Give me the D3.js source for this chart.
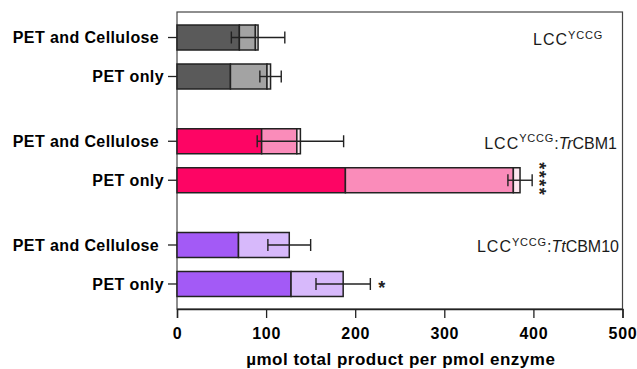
<!DOCTYPE html>
<html>
<head>
<meta charset="utf-8">
<script src="https://cdn.jsdelivr.net/npm/d3@7"></script>
<style>
  html, body { margin: 0; padding: 0; background: #fff; }
  svg text { font-family: "Liberation Sans", Arial, Helvetica, sans-serif; }
</style>
</head>
<body>
<svg id="chart" width="637" height="369"></svg>
<script>
// ---- data ----
const groups = ["LCC", "LCC:Tr", "LCC:Tt"];
const groupBase = ["LCC", "LCC", "LCC"];
const groupSup = ["YCCG", "YCCG", "YCCG"];
const groupItalic = ["", "Tr", "Tt"];
const groupSuffix = ["", "CBM1", "CBM10"];
const conditions = ["PET and Cellulose", "PET only"];
// rows: group x condition, in reading order
const segDark  = [70, 60, 95, 189, 69, 128];
const segLight = [18, 41, 39.5, 188.5, 57, 58.5];
const segThird = [3, 4, 4, 7.5, 0, 0];
const errSD    = [30, 12, 48.5, 13.6, 24, 30.5];
const signif   = ["", "", "", "****", "", "*"];
const xTicks   = [0, 100, 200, 300, 400, 500];
const xTitle   = "µmol total product per pmol enzyme";

// ---- styles ----
const darkCol  = ["#5a5a5a", "#fd0564", "#a35af6"];
const lightCol = ["#a3a3a3", "#fa8cba", "#d7b9fb"];
const thirdCol = ["#d8d8d8", "#fde6ef", "#efe4ff"];
const ink = "#222";

const svg = d3.select("#chart");
const x = d3.scaleLinear().domain([0, 500]).range([177, 622.5]);
const yOuter = d3.scaleBand().domain(groups).range([18, 303.5]).paddingInner(0.248).paddingOuter(0);
const yInner = d3.scaleBand().domain(conditions).range([0, yOuter.bandwidth()]).paddingInner(0.359).paddingOuter(0.18);

const rows = [];
groups.forEach((g, gi) => conditions.forEach((c, ci) => {
  const i = gi * conditions.length + ci;
  rows.push({ g, gi, c, ci, i, a: segDark[i], b: segLight[i], t: segThird[i], err: errSD[i], sig: signif[i] });
}));
const yPos = d => yOuter(d.g) + yInner(d.c);
const bh = yInner.bandwidth();

const stack = d3.stack().keys(["a", "b", "t"]);
const layers = stack(rows);
const colsets = [darkCol, lightCol, thirdCol];

// frame
svg.append("rect")
  .attr("x", x(0)).attr("y", 12)
  .attr("width", x(500) - x(0)).attr("height", 309 - 12)
  .attr("fill", "none").attr("stroke", "#444").attr("stroke-width", 1.2);

// bars
layers.forEach((layer, li) => {
  svg.append("g").selectAll("rect")
    .data(layer.filter(s => s[1] - s[0] > 0))
    .join("rect")
    .attr("x", s => x(s[0]))
    .attr("y", s => yPos(s.data))
    .attr("width", s => x(s[1]) - x(s[0]))
    .attr("height", bh)
    .attr("fill", s => colsets[li][s.data.gi])
    .attr("stroke", ink)
    .attr("stroke-width", 1.5);
});

// error bars
const eb = svg.append("g").attr("stroke", ink).attr("stroke-width", 1.4).attr("fill", "none");
rows.forEach(d => {
  const tot = d.a + d.b + d.t;
  const cy = yPos(d) + bh / 2;
  const x0 = x(tot - d.err), x1 = x(tot + d.err);
  eb.append("line").attr("x1", x0).attr("x2", x1).attr("y1", cy).attr("y2", cy);
  eb.append("line").attr("x1", x0).attr("x2", x0).attr("y1", cy - 6).attr("y2", cy + 6);
  eb.append("line").attr("x1", x1).attr("x2", x1).attr("y1", cy - 6).attr("y2", cy + 6);
});

// significance
rows.filter(d => d.sig).forEach(d => {
  const tot = d.a + d.b + d.t;
  const cy = yPos(d) + bh / 2;
  const gx = x(tot + d.err) + 11.5; // glyph centre x
  if (d.sig.length > 1) {
    svg.append("text")
      .attr("transform", `translate(${gx - 10.4},${cy - 1}) rotate(90)`)
      .attr("text-anchor", "middle")
      .attr("font-size", 18).attr("font-weight", "bold").attr("fill", ink)
      .attr("letter-spacing", 1.5)
      .text(d.sig);
  } else {
    svg.append("text")
      .attr("x", gx).attr("y", cy + 10.4)
      .attr("text-anchor", "middle")
      .attr("font-size", 18).attr("font-weight", "bold").attr("fill", ink)
      .text(d.sig);
  }
});

// y ticks and labels
const yt = svg.append("g");
rows.forEach(d => {
  const cy = yPos(d) + bh / 2;
  yt.append("line").attr("x1", x(0) - 9).attr("x2", x(0)).attr("y1", cy).attr("y2", cy)
    .attr("stroke", ink).attr("stroke-width", 1.3);
  yt.append("text")
    .attr("x", x(0) - 13).attr("y", cy).attr("dy", "0.35em")
    .attr("text-anchor", "end")
    .attr("font-size", 16).attr("font-weight", "bold").attr("fill", "#000")
    .attr("letter-spacing", 0.4)
    .style("white-space", "pre")
    .text(d.c === conditions[0] ? d.c + " " : d.c);
});

// x axis
const xa = svg.append("g").attr("transform", "translate(0,309)")
  .call(d3.axisBottom(x).tickValues(xTicks).tickSize(9).tickPadding(10).tickFormat(d3.format("d")));
xa.select(".domain").attr("stroke", ink).attr("stroke-width", 1.4);
xa.selectAll(".tick line").attr("stroke", ink).attr("stroke-width", 1.3);
xa.selectAll(".tick text")
  .attr("font-size", 16).attr("font-weight", "bold").attr("fill", "#000")
  .attr("font-family", "Liberation Sans, Arial, sans-serif")
  .attr("letter-spacing", 0.7);

svg.append("text")
  .attr("x", (x(0) + x(500)) / 2 + 1).attr("y", 365)
  .attr("text-anchor", "middle")
  .attr("font-size", 17).attr("font-weight", "bold").attr("fill", "#000")
  .attr("letter-spacing", 0.5)
  .text(xTitle);

// group labels
const labelRight = [603, 617, 619];
groups.forEach((g, gi) => {
  const first = rows.find(r => r.gi === gi);
  const by = yPos(first) + bh / 2 + 7.5;
  const t = svg.append("text")
    .attr("x", labelRight[gi]).attr("y", by)
    .attr("text-anchor", "end")
    .attr("font-size", 16).attr("fill", "#1a1a1a");
  t.append("tspan").attr("letter-spacing", 1).text(groupBase[gi]);
  t.append("tspan").attr("font-size", 11).attr("dy", -6.5).attr("letter-spacing", 0.8).text(groupSup[gi]);
  if (groupItalic[gi]) {
    t.append("tspan").attr("dy", 6.5).text(":");
    t.append("tspan").attr("font-style", "italic").text(groupItalic[gi]);
    t.append("tspan").text(groupSuffix[gi]);
  }
});
</script>
</body>
</html>
